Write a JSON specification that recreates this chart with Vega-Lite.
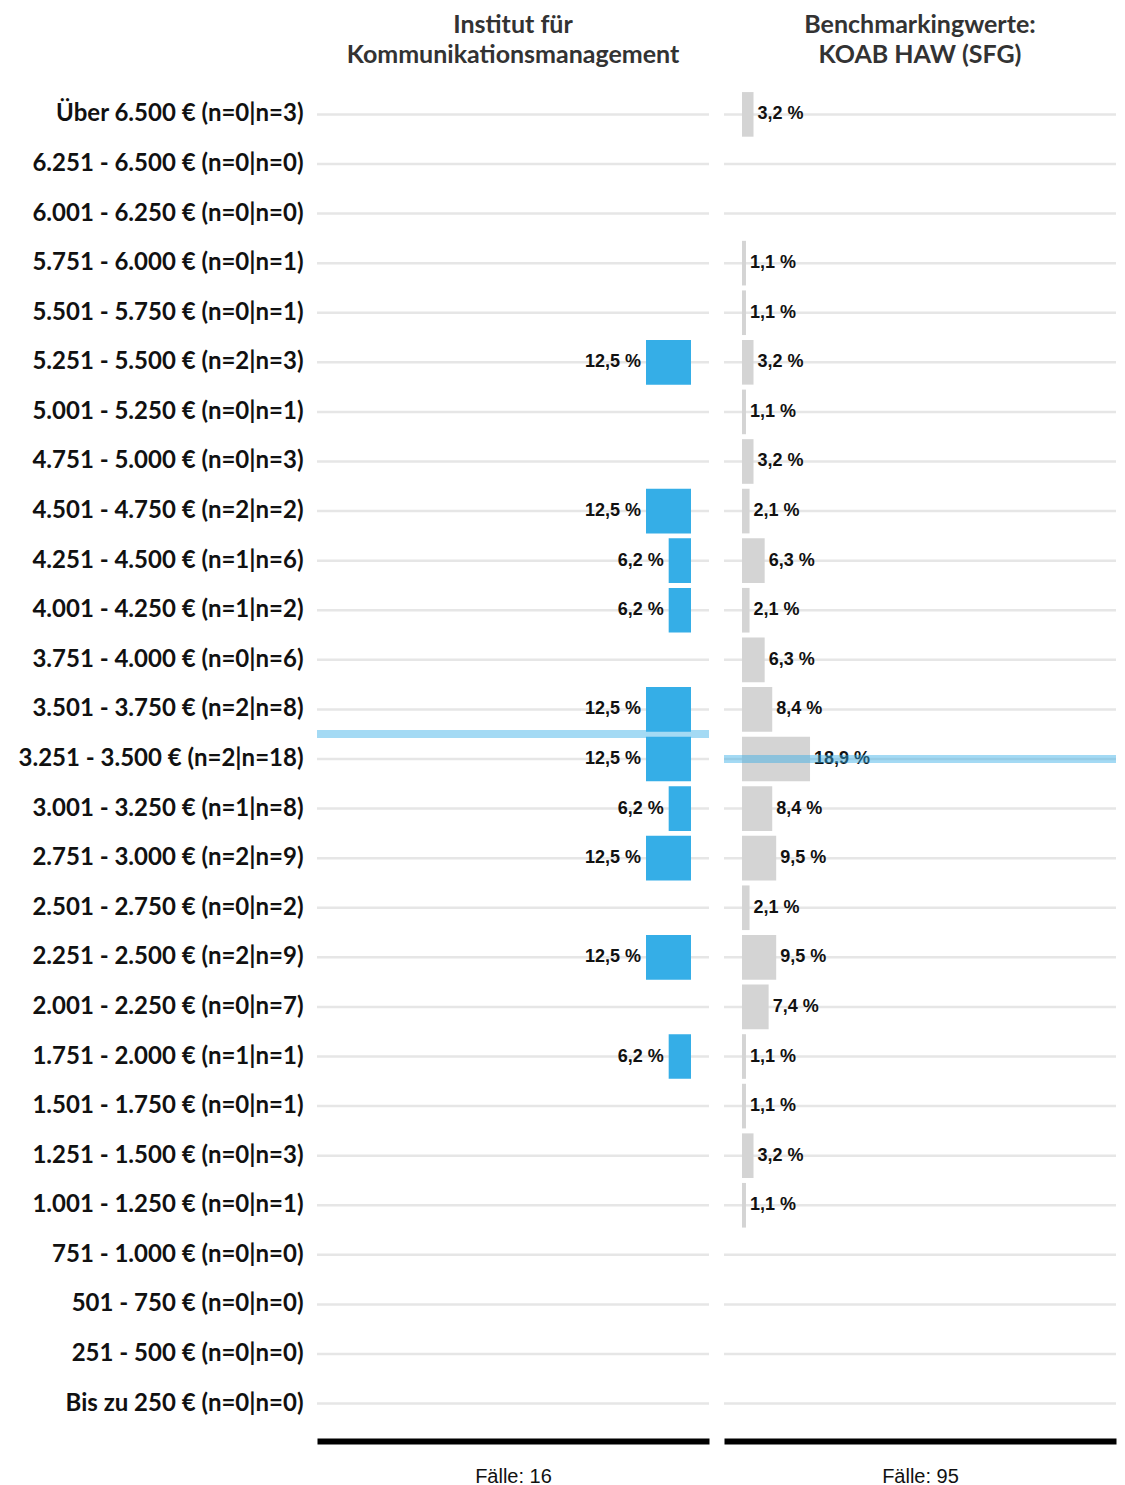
{
  "$schema": "https://vega.github.io/schema/vega-lite/v6.json",
  "padding": {"left": 18, "top": 13, "right": 5, "bottom": 0},
  "background": "white",
  "datasets": {
    "rows": [
      {"k": "Über 6.500 € (n=0|n=3)", "inst": 0, "bench": 3.2},
      {"k": "6.251 - 6.500 € (n=0|n=0)", "inst": 0, "bench": 0},
      {"k": "6.001 - 6.250 € (n=0|n=0)", "inst": 0, "bench": 0},
      {"k": "5.751 - 6.000 € (n=0|n=1)", "inst": 0, "bench": 1.1},
      {"k": "5.501 - 5.750 € (n=0|n=1)", "inst": 0, "bench": 1.1},
      {"k": "5.251 - 5.500 € (n=2|n=3)", "inst": 12.5, "bench": 3.2},
      {"k": "5.001 - 5.250 € (n=0|n=1)", "inst": 0, "bench": 1.1},
      {"k": "4.751 - 5.000 € (n=0|n=3)", "inst": 0, "bench": 3.2},
      {"k": "4.501 - 4.750 € (n=2|n=2)", "inst": 12.5, "bench": 2.1},
      {"k": "4.251 - 4.500 € (n=1|n=6)", "inst": 6.2, "bench": 6.3},
      {"k": "4.001 - 4.250 € (n=1|n=2)", "inst": 6.2, "bench": 2.1},
      {"k": "3.751 - 4.000 € (n=0|n=6)", "inst": 0, "bench": 6.3},
      {"k": "3.501 - 3.750 € (n=2|n=8)", "inst": 12.5, "bench": 8.4, "meanInst": true},
      {"k": "3.251 - 3.500 € (n=2|n=18)", "inst": 12.5, "bench": 18.9, "meanBench": true},
      {"k": "3.001 - 3.250 € (n=1|n=8)", "inst": 6.2, "bench": 8.4},
      {"k": "2.751 - 3.000 € (n=2|n=9)", "inst": 12.5, "bench": 9.5},
      {"k": "2.501 - 2.750 € (n=0|n=2)", "inst": 0, "bench": 2.1},
      {"k": "2.251 - 2.500 € (n=2|n=9)", "inst": 12.5, "bench": 9.5},
      {"k": "2.001 - 2.250 € (n=0|n=7)", "inst": 0, "bench": 7.4},
      {"k": "1.751 - 2.000 € (n=1|n=1)", "inst": 6.2, "bench": 1.1},
      {"k": "1.501 - 1.750 € (n=0|n=1)", "inst": 0, "bench": 1.1},
      {"k": "1.251 - 1.500 € (n=0|n=3)", "inst": 0, "bench": 3.2},
      {"k": "1.001 - 1.250 € (n=0|n=1)", "inst": 0, "bench": 1.1},
      {"k": "751 - 1.000 € (n=0|n=0)", "inst": 0, "bench": 0},
      {"k": "501 - 750 € (n=0|n=0)", "inst": 0, "bench": 0},
      {"k": "251 - 500 € (n=0|n=0)", "inst": 0, "bench": 0},
      {"k": "Bis zu 250 € (n=0|n=0)", "inst": 0, "bench": 0}
    ]
  },
  "spacing": 7,
  "hconcat": [
    {
      "width": 392,
      "height": 1364,
      "data": {"name": "rows"},
      "title": {"text": ["Institut für", "Kommunikationsmanagement"], "frame": "group", "anchor": "middle", "offset": 9},
      "encoding": {
        "y": {"field": "k", "type": "nominal", "sort": null,
          "scale": {"paddingInner": 0.1, "paddingOuter": 0.304},
          "axis": {"title": null, "domain": false, "ticks": false, "labelPadding": 14, "labelLimit": 500,
            "labelFont": "Lato", "labelFontSize": 24, "labelFontWeight": "bold", "labelColor": "#111111"}}
      },
      "layer": [
        {"mark": {"type": "rule", "color": "#e6e6e6", "strokeWidth": 2.5}},
        {
          "transform": [{"filter": "datum.inst > 0"}],
          "mark": {"type": "bar", "color": "#35aee7"},
          "encoding": {
            "x": {"field": "inst", "type": "quantitative", "scale": {"domain": [-5, 103.9], "reverse": true, "nice": false, "zero": false},
              "axis": {"title": "Fälle: 16", "labels": false, "ticks": false, "grid": false, "domainColor": "black", "domainWidth": 6,
                "titleFont": "Liberation Sans", "titleFontSize": 20, "titleFontWeight": "normal", "titleColor": "#111111", "titlePadding": 25}},
            "x2": {"datum": 0}
          }
        },
        {
          "transform": [{"filter": "datum.inst > 0"}, {"calculate": "replace(format(datum.inst, '.1f'), '.', ',') + ' %'", "as": "lbl"}],
          "mark": {"type": "text", "align": "right", "dx": -5, "font": "Liberation Sans", "fontSize": 18, "fontWeight": "bold", "color": "#111111"},
          "encoding": {
            "x": {"field": "inst", "type": "quantitative"},
            "text": {"field": "lbl"}
          }
        },
        {
          "transform": [{"filter": "datum.meanInst"}],
          "mark": {"type": "rule", "color": "#35aee7", "opacity": 0.45, "strokeWidth": 8},
          "encoding": {"y": {"field": "k", "type": "nominal", "sort": null, "bandPosition": 1.05}}
        }
      ]
    },
    {
      "width": 392,
      "height": 1364,
      "data": {"name": "rows"},
      "title": {"text": ["Benchmarkingwerte:", "KOAB HAW (SFG)"], "frame": "group", "anchor": "middle", "offset": 9},
      "encoding": {
        "y": {"field": "k", "type": "nominal", "sort": null,
          "scale": {"paddingInner": 0.1, "paddingOuter": 0.304}, "axis": null}
      },
      "layer": [
        {"mark": {"type": "rule", "color": "#e6e6e6", "strokeWidth": 2.5}},
        {
          "transform": [{"filter": "datum.bench > 0"}],
          "mark": {"type": "bar", "color": "#d4d4d4"},
          "encoding": {
            "x": {"field": "bench", "type": "quantitative", "scale": {"domain": [-5, 103.9], "nice": false, "zero": false},
              "axis": {"title": "Fälle: 95", "labels": false, "ticks": false, "grid": false, "domainColor": "black", "domainWidth": 6,
                "titleFont": "Liberation Sans", "titleFontSize": 20, "titleFontWeight": "normal", "titleColor": "#111111", "titlePadding": 25}},
            "x2": {"datum": 0}
          }
        },
        {
          "transform": [{"filter": "datum.bench > 0"}, {"calculate": "replace(format(datum.bench, '.1f'), '.', ',') + ' %'", "as": "lbl"}],
          "mark": {"type": "text", "align": "left", "dx": 4, "font": "Liberation Sans", "fontSize": 18, "fontWeight": "bold", "color": "#111111"},
          "encoding": {
            "x": {"field": "bench", "type": "quantitative"},
            "text": {"field": "lbl"}
          }
        },
        {
          "transform": [{"filter": "datum.meanBench"}],
          "mark": {"type": "rule", "color": "#35aee7", "opacity": 0.45, "strokeWidth": 8},
          "encoding": {"y": {"field": "k", "type": "nominal", "sort": null, "bandPosition": 0.5}}
        }
      ]
    }
  ],
  "config": {
    "view": {"stroke": null},
    "title": {"font": "Lato", "fontSize": 25, "fontWeight": "bold", "color": "#333333", "lineHeight": 30}
  }
}
